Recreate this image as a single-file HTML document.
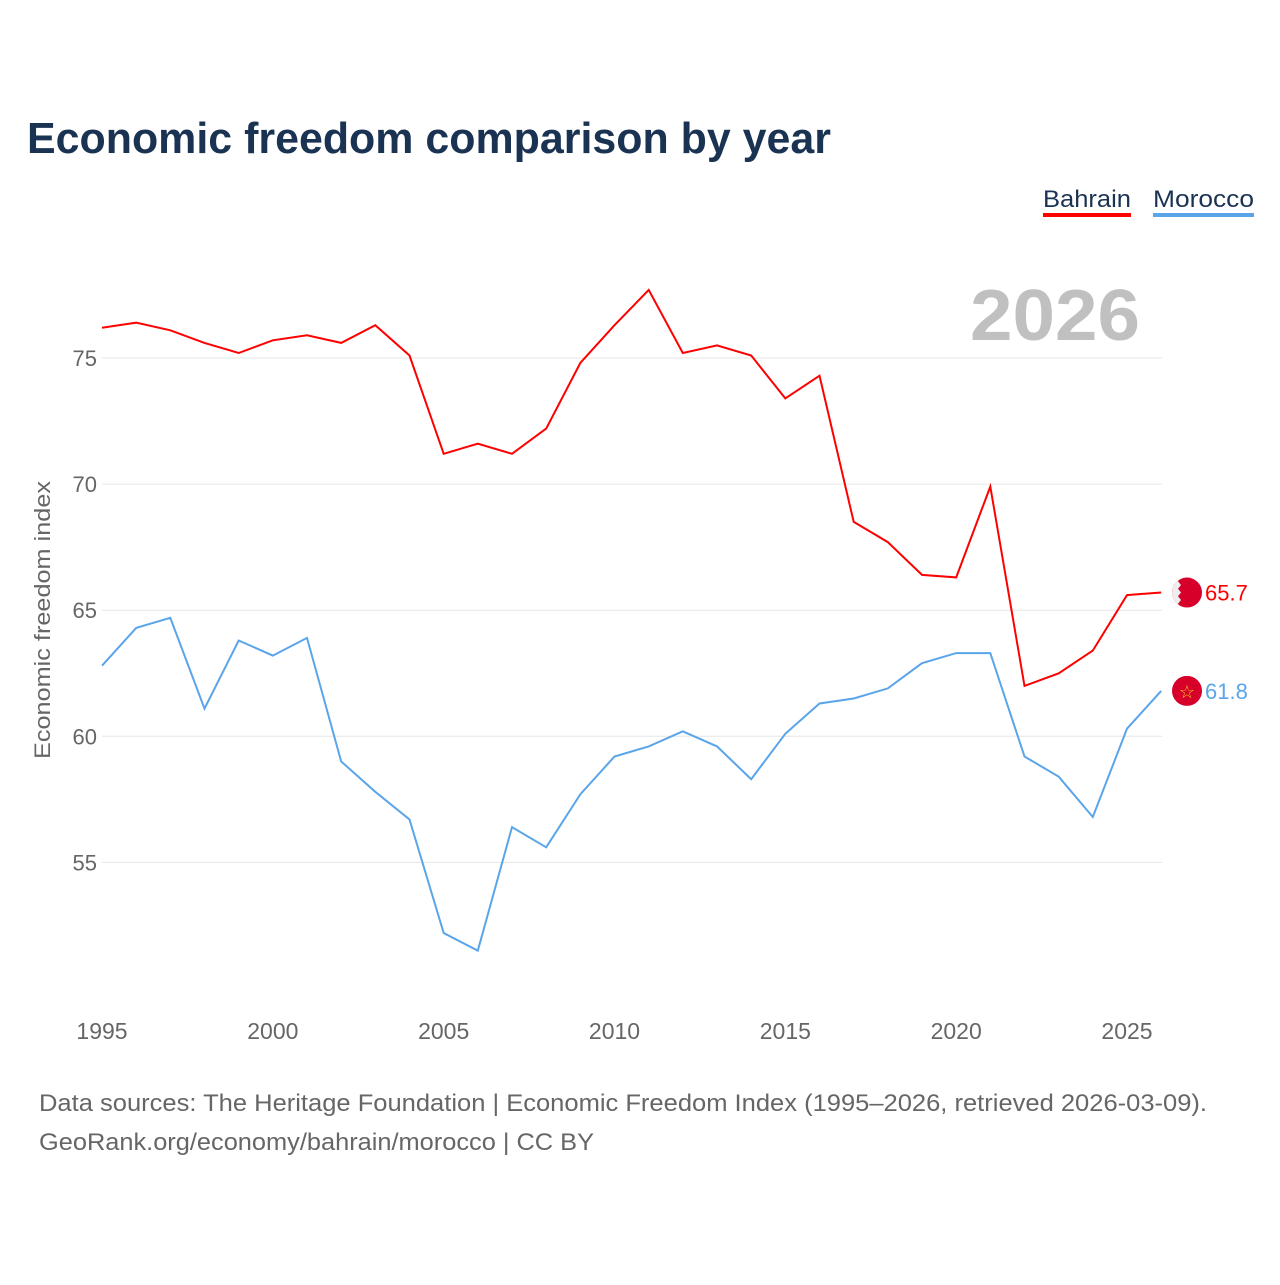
<!DOCTYPE html>
<html><head><meta charset="utf-8"><style>
body{margin:0;background:#fff;}
svg text{font-family:"Liberation Sans",sans-serif;}
</style></head><body>
<svg id="chart" width="1280" height="1280" viewBox="0 0 1280 1280">
<defs><clipPath id="bhclip"><circle cx="1187" cy="592" r="15"/></clipPath></defs>
<text x="27" y="153" font-size="44" font-weight="bold" fill="#1b3353" textLength="804" lengthAdjust="spacingAndGlyphs">Economic freedom comparison by year</text>
<g>
<text x="1043" y="207" font-size="24" fill="#1b3353" textLength="88" lengthAdjust="spacingAndGlyphs">Bahrain</text>
<rect x="1043" y="213" width="88" height="4" fill="#ff0000"/>
<text x="1153" y="207" font-size="24" fill="#1b3353" textLength="101" lengthAdjust="spacingAndGlyphs">Morocco</text>
<rect x="1153" y="213" width="101" height="4" fill="#5aa5ea"/>
</g>
<text x="1140" y="340" text-anchor="end" font-size="72" font-weight="bold" fill="#c0c0c0" textLength="170" lengthAdjust="spacingAndGlyphs">2026</text>
<g id="grid"></g><g id="axes"></g><g id="lines"></g>
<text transform="translate(50,620) rotate(-90)" text-anchor="middle" font-size="22" fill="#666" textLength="278" lengthAdjust="spacingAndGlyphs">Economic freedom index</text>
<text x="39" y="1111" font-size="24" fill="#666" textLength="1168" lengthAdjust="spacingAndGlyphs">Data sources: The Heritage Foundation | Economic Freedom Index (1995–2026, retrieved 2026-03-09).</text>
<text x="39" y="1150" font-size="24" fill="#666" textLength="555" lengthAdjust="spacingAndGlyphs">GeoRank.org/economy/bahrain/morocco | CC BY</text>
</svg>
<script>
const years=[1995,1996,1997,1998,1999,2000,2001,2002,2003,2004,2005,2006,2007,2008,2009,2010,2011,2012,2013,2014,2015,2016,2017,2018,2019,2020,2021,2022,2023,2024,2025,2026];
const bahrain=[76.2,76.4,76.1,75.6,75.2,75.7,75.9,75.6,76.3,75.1,71.2,71.6,71.2,72.2,74.8,76.3,77.7,75.2,75.5,75.1,73.4,74.3,68.5,67.7,66.4,66.3,69.9,62.0,62.5,63.4,65.6,65.7];
const morocco=[62.8,64.3,64.7,61.1,63.8,63.2,63.9,59.0,57.8,56.7,52.2,51.5,56.4,55.6,57.7,59.2,59.6,60.2,59.6,58.3,60.1,61.3,61.5,61.9,62.9,63.3,63.3,59.2,58.4,56.8,60.3,61.8];
const yTicks=[55,60,65,70,75];
const xTicks=[1995,2000,2005,2010,2015,2020,2025];
const NS="http://www.w3.org/2000/svg";
const xs=y=>102+(y-1995)*(1127-102)/30;
const ys=v=>358+(75-v)*25.22;
function mk(tag,attrs,parent,text){const e=document.createElementNS(NS,tag);for(const k in attrs)e.setAttribute(k,attrs[k]);if(text!==undefined)e.textContent=text;document.getElementById(parent).appendChild(e);return e;}
yTicks.forEach(t=>{
 const l=mk('line',{x1:102,x2:1162,y1:ys(t),y2:ys(t),stroke:'#e6e6e6','stroke-width':1},'grid');
 
 
 const tx=mk('text',{x:97,y:ys(t)+8,'text-anchor':'end','font-size':22,fill:'#666'},'axes',t);
 
 
});
xTicks.forEach(t=>{
 const tx=mk('text',{x:xs(t),y:1039,'text-anchor':'middle','font-size':23,fill:'#666'},'axes',t);
 
 
});
function series(vals,color,name,flag){
 const d=vals.map((v,i)=>(i?'L':'M')+xs(years[i]).toFixed(1)+','+ys(v).toFixed(1)).join('');
 const p=mk('path',{d:d,fill:'none',stroke:color,'stroke-width':2},'lines');
 
 
 const last=vals[vals.length-1],cy=ys(last),cx=1187;
 const c=mk('circle',{cx:cx,cy:cy,r:15,fill:'#d7002a'},'lines');
 
 
 if(flag==='bh'){
  document.querySelector('#bhclip circle').setAttribute('cy',cy);
  const w=mk('path',{d:`M${cx-15},${cy-15}h9l-3,3.75l3,3.75l-3,3.75l3,3.75l-3,3.75l3,3.75l-3,3.75l3,3.75h-9z`,fill:'#eee','clip-path':'url(#bhclip)'},'lines');
  
  }
 else{const s=mk('text',{x:cx,y:cy+7,'text-anchor':'middle','font-size':18,fill:'#f5c518'},'lines','☆');
  
  }
 const t=mk('text',{x:1205,y:cy+8,'font-size':22,fill:color},'lines',last.toFixed(1));
 
 
}
series(bahrain,'#ff0000','bahrain','bh');
series(morocco,'#5aa5ea','morocco','ma');
</script>
</body></html>
